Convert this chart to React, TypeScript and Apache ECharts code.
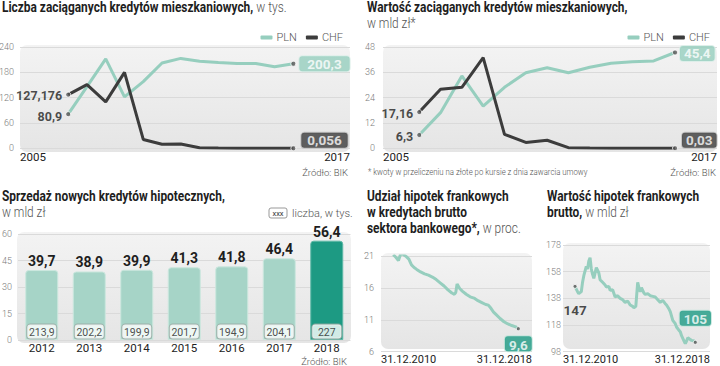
import React, { useEffect, useRef } from 'react';
import * as echarts from 'echarts';

// ---------- DATA ----------
const years = [2005, 2006, 2007, 2008, 2009, 2010, 2011, 2012, 2013, 2014, 2015, 2016, 2017];
const countPLN = [80.9, 146, 212, 122, 158, 202, 213, 206, 203, 201, 201, 193, 200.3];
const countCHF = [127.176, 151, 110, 180, 21, 9.5, 10, 1.2, 0.5, 0.4, 0.2, 0.1, 0.056];
const valuePLN = [6.3, 16.9, 34.3, 20, 28.9, 35.8, 38.2, 35.8, 38.4, 40.3, 41, 41.4, 45.4];
const valueCHF = [17.16, 28, 28.9, 43, 6.6, 2.8, 3.8, 0.3, 0.1, 0.08, 0.05, 0.04, 0.03];

const barYears = ['2012', '2013', '2014', '2015', '2016', '2017', '2018'];
const barValues = [39.7, 38.9, 39.9, 41.3, 41.8, 46.4, 56.4];
const barCounts = [213.9, 202.2, 199.9, 201.7, 194.9, 204.1, 227];

// months since 31.12.2010
const shareMonths = [0, 2, 4, 6, 8, 10, 12, 14, 16, 18, 21, 24, 27, 30, 33, 36, 39, 42, 45, 47, 48, 49, 51, 53, 56, 59, 62, 65, 68, 71, 73, 75, 77, 79, 82, 85, 88, 91, 94, 96];
const shareValues = [21.2, 20.8, 20.3, 21.5, 21.2, 20.9, 20.5, 19.6, 19.2, 18.9, 18.5, 18.2, 18.0, 17.7, 17.3, 16.8, 16.3, 15.7, 15.2, 15.0, 15.3, 16.6, 15.9, 15.5, 15.0, 14.6, 14.4, 14.0, 13.7, 13.4, 13.3, 12.8, 12.2, 11.8, 11.2, 10.7, 10.35, 10.1, 9.9, 9.6];

const chfMonths = [0, 1, 2, 3, 5, 6, 7, 9, 10, 11, 12, 13, 14, 15, 17, 19, 20, 22, 24, 25, 27, 28, 30, 32, 34, 36, 38, 40, 42, 44, 46, 47, 48.5, 50, 51, 52, 53, 55, 56, 58, 60, 62, 64, 66, 68, 70, 72, 73, 75, 76, 78, 80, 81, 83, 84, 85, 86, 87, 88, 89, 90, 92, 93, 95, 96];
const chfValues = [147, 145, 143, 141.5, 143, 150, 155, 162, 160, 166, 168.5, 160, 156, 153, 161, 157, 152, 150, 148, 146.5, 147, 144, 144.5, 139, 140, 138, 137, 135, 136, 133, 132, 131, 132, 150, 146, 143, 146, 142, 141, 141.5, 140, 139.5, 139, 137, 135, 136.5, 134, 133, 130, 128, 121.5, 119, 116.5, 114, 113, 110, 108, 106, 104, 106, 108.5, 107, 106.5, 106, 105];

const dateStart = '31.12.2010';
const dateEnd = '31.12.2018';

// ---------- STYLE ----------
const BOLD = "Roboto, 'Noto Sans', sans-serif";
const LIGHT = "Roboto, 'Noto Sans', sans-serif";
const TEAL = '#96cebe';
const TEAL_DARK = '#1d9a83';
const DARK = '#3c3c3c';
const BAR = '#a6d4c7';

const fmt = (v: number) => String(v).replace('.', ',');

const richTitle = {
  b: { fontFamily: BOLD, fontWeight: 'bold', fontSize: 14, color: '#1e1e1e', fill: '#1e1e1e', lineHeight: 16 },
  l: { fontFamily: LIGHT, fontWeight: 300, fontSize: 14, color: '#555', fill: '#555', lineHeight: 16 },
};

const near = (a: number, b: number) => Math.abs(a - b) < 0.05;

function edgeXAxis(gridIndex: number, min: number, max: number, a: string, b: string, margin: number, size = 11.5) {
  return {
    gridIndex,
    type: 'value',
    min,
    max,
    interval: max - min,
    axisLine: { show: false },
    axisTick: { show: false },
    splitLine: { show: false },
    axisLabel: {
      showMinLabel: true,
      showMaxLabel: true,
      alignMinLabel: 'left',
      alignMaxLabel: 'right',
      margin,
      fontFamily: LIGHT,
      fontSize: size,
      color: '#222',
      formatter: (v: number) => (near(v, min) ? a : near(v, max) ? b : ''),
    },
  };
}

function yAxis(gridIndex: number, min: number, max: number, interval: number, margin: number) {
  return {
    gridIndex,
    type: 'value',
    min,
    max,
    interval,
    axisLine: { show: false },
    axisTick: { show: false },
    splitLine: { show: true, lineStyle: { color: '#dadada', width: 1 } },
    axisLabel: { margin, fontFamily: LIGHT, fontWeight: 300, fontSize: 9, color: '#7a7a7a' },
  };
}

const bgFill = () =>
  new echarts.graphic.LinearGradient(0, 0, 0, 1, [
    { offset: 0, color: '#f3f3f3' },
    { offset: 1, color: '#e5e5e5' },
  ]);

function bgRect(x: number, y: number, w: number, h: number) {
  return { type: 'rect', z: -5, silent: true, shape: { x, y, width: w, height: h, r: 7 }, style: { fill: bgFill() } };
}

function txt(text: string, x: number, y: number, align: string, size: number, color: string, weight: any = 300, scaleX = 1) {
  return {
    type: 'text',
    silent: true,
    x, y, scaleX,
    style: {
      text, x: 0, y: 0,
      align, textAlign: align,
      verticalAlign: 'middle', textVerticalAlign: 'middle',
      fontSize: size, fontFamily: LIGHT, fontWeight: weight, fill: color,
    },
  };
}

function titleG(text: string, x: number, y: number) {
  return {
    type: 'text',
    silent: true,
    x, y, scaleX: 0.85,
    style: {
      text, x: 0, y: 0, rich: richTitle,
      align: 'left', textAlign: 'left', verticalAlign: 'top', textVerticalAlign: 'top',
      fontSize: 14, fontFamily: BOLD, fill: '#1e1e1e',
    },
  };
}

const endLabelBase = {
  show: true,
  fontFamily: BOLD,
  fontWeight: 'bold',
  fontSize: 12.5,
  color: '#1e1e1e',
  formatter: (p: any) => fmt(p.value[1]),
};

const box = (bg: string, border: string, padH: number) => ({
  backgroundColor: bg,
  color: '#fff',
  borderColor: border,
  borderWidth: 1,
  borderRadius: 3,
  padding: [2, padH, 0, padH],
  lineHeight: 13,
  fontSize: 13.5,
});

const markerStyle = { color: '#555', borderColor: '#fff', borderWidth: 1 };

export default function App() {
  const ref = useRef<HTMLDivElement>(null);
  useEffect(() => {
    if (!ref.current) return;
    const chart = echarts.init(ref.current, undefined, { renderer: 'svg' });
    const last = years.length - 1;
    const legendBase = {
      data: ['PLN', 'CHF'], top: 27, icon: 'roundRect', itemWidth: 12, itemHeight: 4, itemGap: 9,
      selectedMode: false, textStyle: { fontFamily: LIGHT, fontWeight: 300, fontSize: 11, color: '#555', padding: [0, 0, 0, -1] },
    };
    const option: any = {
      animation: false,
      backgroundColor: '#ffffff',
      legend: [
        { ...legendBase, right: 372 },
        { ...legendBase, right: 5 },
      ],
      grid: [
        { left: 20, top: 47, width: 330, height: 101.3, outerBoundsMode: 'none' },
        { left: 383, top: 47, width: 334, height: 101.3, outerBoundsMode: 'none' },
        { left: 18, top: 234.3, width: 332.5, height: 105.7, outerBoundsMode: 'none' },
        { left: 381, top: 256, width: 151, height: 95.7, outerBoundsMode: 'none' },
        { left: 563, top: 245, width: 147, height: 106.7, outerBoundsMode: 'none' },
      ],
      xAxis: [
        edgeXAxis(0, 2002.43, 2020.02, String(years[0]), String(years[last]), 3),
        edgeXAxis(1, 2003.3, 2018.97, String(years[0]), String(years[last]), 3),
        {
          gridIndex: 2, type: 'category', data: barYears,
          axisLine: { show: false }, axisTick: { show: false },
          axisLabel: { margin: 2, fontFamily: LIGHT, fontSize: 11.5, color: '#222' },
        },
        edgeXAxis(3, -9.4, 106.5, dateStart, dateEnd, 2, 11),
        edgeXAxis(4, -9.6, 107.7, dateStart, dateEnd, 2, 11),
      ],
      yAxis: [
        yAxis(0, 0, 240, 60, 6),
        yAxis(1, 0, 48, 12, 8),
        yAxis(2, 0, 60, 15, 6),
        yAxis(3, 6, 21, 5, 7),
        yAxis(4, 98, 178, 20, 2),
      ],
      series: [
        // panel 1
        { name: 'PLN', type: 'line', xAxisIndex: 0, yAxisIndex: 0, symbol: 'none', lineStyle: { color: TEAL, width: 3 }, itemStyle: { color: TEAL }, data: years.map((y, i) => [y, countPLN[i]]), z: 3 },
        { name: 'CHF', type: 'line', xAxisIndex: 0, yAxisIndex: 0, symbol: 'none', lineStyle: { color: DARK, width: 3 }, itemStyle: { color: DARK }, data: years.map((y, i) => [y, countCHF[i]]), z: 3 },
        {
          name: 'p1', type: 'scatter', xAxisIndex: 0, yAxisIndex: 0, symbolSize: 5, itemStyle: markerStyle, z: 5,
          label: endLabelBase,
          data: [
            { value: [years[0], countCHF[0]], label: { position: 'left', distance: 3, offset: [0, 1] } },
            { value: [years[0], countPLN[0]], label: { position: 'left', distance: 3, offset: [0, 2] } },
            { value: [years[last], countPLN[last]], label: { position: 'right', distance: 3, offset: [0, 0], ...box(TEAL, '#d8eee7', 8) } },
            { value: [years[last], countCHF[last]], label: { position: 'right', distance: 5, offset: [0, -8], ...box(DARK, '#bbbbbb', 6) } },
          ],
        },
        // panel 2
        { name: 'PLN', type: 'line', xAxisIndex: 1, yAxisIndex: 1, symbol: 'none', lineStyle: { color: TEAL, width: 3 }, itemStyle: { color: TEAL }, data: years.map((y, i) => [y, valuePLN[i]]), z: 3 },
        { name: 'CHF', type: 'line', xAxisIndex: 1, yAxisIndex: 1, symbol: 'none', lineStyle: { color: DARK, width: 3 }, itemStyle: { color: DARK }, data: years.map((y, i) => [y, valueCHF[i]]), z: 3 },
        {
          name: 'p2', type: 'scatter', xAxisIndex: 1, yAxisIndex: 1, symbolSize: 5, itemStyle: markerStyle, z: 5,
          label: endLabelBase,
          data: [
            { value: [years[0], valueCHF[0]], label: { position: 'left', distance: 3, offset: [0, 1] } },
            { value: [years[0], valuePLN[0]], label: { position: 'left', distance: 3, offset: [0, 1] } },
            { value: [years[last], valuePLN[last]], label: { position: 'right', distance: 2, offset: [0, 1], ...box(TEAL, '#d8eee7', 4) } },
            { value: [years[last], valueCHF[last]], label: { position: 'right', distance: 4, offset: [0, -8], ...box(DARK, '#bbbbbb', 4) } },
          ],
        },
        // panel 3
        {
          name: 'bars', type: 'bar', xAxisIndex: 2, yAxisIndex: 2, barWidth: 33,
          data: barValues.map((v, i) => ({
            value: v,
            itemStyle: i === barValues.length - 1
              ? { color: TEAL_DARK, borderColor: '#5fb9a7', borderWidth: 1, borderRadius: [3, 3, 0, 0] }
              : { color: BAR, borderColor: '#cbe7de', borderWidth: 1, borderRadius: [3, 3, 0, 0] },
          })),
          label: {
            show: true, position: 'top', distance: 2,
            fontFamily: BOLD, fontWeight: 'bold', fontSize: 14, color: '#1e1e1e',
            formatter: (p: any) => fmt(p.value),
          },
        },
        {
          name: 'counts', type: 'scatter', xAxisIndex: 2, yAxisIndex: 2, symbolSize: 1, itemStyle: { color: 'rgba(0,0,0,0)' }, z: 6,
          data: barYears.map((y) => [y, 0]),
          label: {
            show: true, position: 'top', distance: 1,
            fontFamily: LIGHT, fontSize: 10.5, color: '#222',
            backgroundColor: '#ffffff', borderColor: '#9aa7a3', borderWidth: 1, borderRadius: 3,
            width: 25, align: 'center', padding: [2, 2, 1, 2], lineHeight: 11,
            formatter: (p: any) => fmt(barCounts[p.dataIndex]),
          },
        },
        // panel 4
        {
          name: 'share', type: 'line', xAxisIndex: 3, yAxisIndex: 3, symbol: 'none', z: 3,
          lineStyle: { color: TEAL, width: 3 },
          data: shareMonths.map((m, i) => [m, shareValues[i]]),
        },
        {
          name: 'p4', type: 'scatter', xAxisIndex: 3, yAxisIndex: 3, symbolSize: 4, itemStyle: markerStyle, z: 5,
          label: endLabelBase,
          data: [
            { value: [shareMonths[0], shareValues[0]], label: { position: 'bottom', distance: 9, fontSize: 13.5 } },
            { value: [shareMonths[shareMonths.length - 1], shareValues[shareValues.length - 1]], label: { position: 'bottom', distance: 5, ...box(TEAL_DARK, '#bfe3d9', 4) } },
          ],
        },
        // panel 5
        {
          name: 'chfval', type: 'line', xAxisIndex: 4, yAxisIndex: 4, symbol: 'none', z: 3,
          lineStyle: { color: TEAL, width: 3 },
          data: chfMonths.map((m, i) => [m, chfValues[i]]),
        },
        {
          name: 'p5', type: 'scatter', xAxisIndex: 4, yAxisIndex: 4, symbolSize: 4, itemStyle: markerStyle, z: 5,
          label: endLabelBase,
          data: [
            { value: [chfMonths[0], chfValues[0]], label: { position: 'bottom', distance: 14, fontSize: 13.5 } },
            { value: [chfMonths[chfMonths.length - 1], chfValues[chfValues.length - 1]], label: { position: 'top', distance: 14, ...box(TEAL_DARK, '#bfe3d9', 4) } },
          ],
        },
      ],
      graphic: [
        bgRect(20, 45, 330, 107),
        bgRect(383, 45, 334, 107),
        bgRect(17, 232, 334, 111),
        bgRect(381, 253, 151, 96),
        bgRect(563, 243, 147, 106),
        titleG('{b|Liczba zaciąganych kredytów mieszkaniowych,} {l|w tys.}', 2, -1),
        titleG('{b|Wartość zaciąganych kredytów mieszkaniowych,}\n{l|w mld zł*}', 367, -1),
        titleG('{b|Sprzedaż nowych kredytów hipotecznych,}\n{l|w mld zł}', 2, 188),
        titleG('{b|Udział hipotek frankowych}\n{b|w kredytach brutto}\n{b|sektora bankowego*,} {l|w proc.}', 367, 188),
        titleG('{b|Wartość hipotek frankowych}\n{b|brutto,} {l|w mld zł}', 547, 188),
        txt('Źródło: BIK', 348, 172, 'right', 9.5, '#555'),
        txt('* kwoty w przeliczeniu na złote po kursie z dnia zawarcia umowy', 368, 172, 'left', 8.5, '#555', 300, 0.92),
        txt('Źródło: BIK', 716, 172, 'right', 9.5, '#555'),
        txt('Źródło: BIK', 347, 361, 'right', 9.5, '#555'),
        {
          type: 'rect', silent: true, shape: { x: 269, y: 208, width: 18, height: 10, r: 2 },
          style: { fill: '#fff', stroke: '#999', lineWidth: 1 },
        },
        txt('xxx', 278, 213, 'center', 7.5, '#333', 'normal'),
        txt('liczba, w tys.', 292, 213, 'left', 11, '#555'),
      ],
    };
    chart.setOption(option);
    return () => chart.dispose();
  }, []);
  return <div ref={ref} style={{ position: 'fixed', left: 0, top: 0, width: 720, height: 366 }} />;
}
